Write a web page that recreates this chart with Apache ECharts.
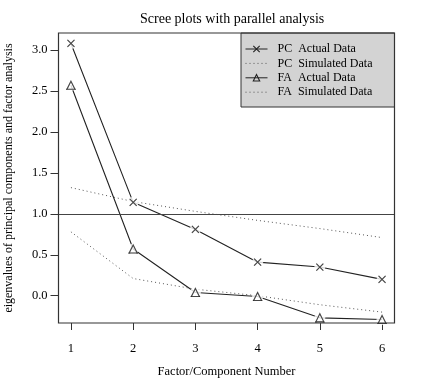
<!DOCTYPE html>
<html>
<head>
<meta charset="utf-8">
<script src="https://cdn.jsdelivr.net/npm/echarts@6/dist/echarts.min.js"></script>
<style>html,body{margin:0;padding:0;background:#fff}#c{width:439px;height:380px}</style>
</head>
<body>
<div id="c"></div>
<script>
var factors = [1, 2, 3, 4, 5, 6];
var pcActual = [3.08, 1.14, 0.81, 0.41, 0.35, 0.20];
var pcSimulated = [1.32, 1.15, 1.03, 0.92, 0.82, 0.71];
var faActual = [2.57, 0.57, 0.04, -0.01, -0.27, -0.29];
var faSimulated = [0.78, 0.21, 0.08, 0.00, -0.11, -0.20];
var yTicks = [0, 0.5, 1.0, 1.5, 2.0, 2.5, 3.0];
var seriesNames = ['PC  Actual Data', 'PC  Simulated Data', 'FA  Actual Data', 'FA  Simulated Data'];

function pairs(vals) { return factors.map(function (f, i) { return [f, vals[i]]; }); }

var FONT = 'Liberation Serif';
var INK = '#222';
var G = { left: 58.5, right: 44.5, top: 33, bottom: 57 };
var W = 439, H = 380;
var crossPath = 'path://M0,0L10,10M10,0L0,10';

function markers(vals, sym, size) {
  return [{
    type: 'scatter', data: pairs(vals), symbol: 'circle', symbolSize: 11, z: 3, silent: true,
    itemStyle: { color: '#fff', borderWidth: 0 }
  }, {
    type: 'scatter', data: pairs(vals), symbol: sym, symbolSize: size, z: 4, silent: true,
    itemStyle: { color: 'transparent', borderColor: INK, borderWidth: 1.1 }
  }];
}

var series = [
  { name: seriesNames[0], type: 'line', data: pairs(pcActual), symbol: crossPath, symbolSize: 7, z: 2,
    lineStyle: { color: INK, width: 1.1 }, itemStyle: { color: 'transparent', borderColor: INK, borderWidth: 1.1 },
    markLine: { silent: true, symbol: 'none', label: { show: false }, lineStyle: { color: '#444', width: 1, type: 'solid' },
      data: [{ yAxis: 1 }] } },
  { name: seriesNames[1], type: 'line', data: pairs(pcSimulated), symbol: 'none', z: 2,
    lineStyle: { color: '#555', width: 1, type: [1, 3] }, itemStyle: { color: 'transparent' } },
  { name: seriesNames[2], type: 'line', data: pairs(faActual), symbol: 'triangle', symbolSize: 8, z: 2,
    lineStyle: { color: INK, width: 1.1 }, itemStyle: { color: 'transparent', borderColor: INK, borderWidth: 1.1 } },
  { name: seriesNames[3], type: 'line', data: pairs(faSimulated), symbol: 'none', z: 2,
    lineStyle: { color: '#555', width: 1, type: [1, 3] }, itemStyle: { color: 'transparent' } }
].concat(markers(pcActual, crossPath, 7)).concat(markers(faActual, 'triangle', 8));

var hiddenSym = { color: 'transparent', borderColor: 'transparent', borderWidth: 0 };
var legendData = [
  { name: seriesNames[0] },
  { name: seriesNames[1], itemStyle: hiddenSym },
  { name: seriesNames[2] },
  { name: seriesNames[3], itemStyle: hiddenSym }
];

var chart = echarts.init(document.getElementById('c'), null, { renderer: 'canvas' });
chart.setOption({
  animation: false,
  backgroundColor: '#fff',
  title: { text: 'Scree plots with parallel analysis', left: 135, top: 7,
    textStyle: { fontFamily: FONT, fontSize: 14, fontWeight: 'normal', color: '#000' } },
  grid: { left: G.left, right: G.right, top: G.top, bottom: G.bottom, show: false,
    containLabel: false, outerBoundsMode: 'none' },
  xAxis: {
    type: 'value', min: 0.8, max: 6.2,
    name: 'Factor/Component Number', nameLocation: 'middle', nameGap: 42,
    nameTextStyle: { fontFamily: FONT, fontSize: 12.5, color: '#000' },
    axisLine: { show: false, onZero: false },
    axisTick: { show: true, length: 7, inside: false, customValues: factors, lineStyle: { color: '#333' } },
    axisLabel: { customValues: factors, margin: 19, fontFamily: FONT, fontSize: 12.5, color: '#000' },
    splitLine: { show: false }
  },
  yAxis: {
    type: 'value', min: -0.333, max: 3.208,
    name: 'eigenvalues of principal components and factor analysis', nameLocation: 'middle', nameGap: 44,
    nameTextStyle: { fontFamily: FONT, fontSize: 12, color: '#000' },
    axisLine: { show: false, onZero: false },
    axisTick: { show: true, length: 8, inside: false, customValues: yTicks, lineStyle: { color: '#333' } },
    axisLabel: { customValues: yTicks, margin: 11, fontFamily: FONT, fontSize: 12.5, color: '#000',
      formatter: function (v) { return v.toFixed(1); } },
    splitLine: { show: false }
  },
  legend: {
    data: legendData, orient: 'vertical', left: 245, top: 43, itemWidth: 22, itemHeight: 8, itemGap: 2.4,
    padding: 0, selectedMode: false,
    lineStyle: { width: 1 },
    itemStyle: { borderWidth: 1.1 },
    textStyle: { fontFamily: FONT, fontSize: 12, color: '#000', padding: [0, 0, 0, 5] }
  },
  graphic: [
    { type: 'rect', z: 1, silent: true,
      shape: { x: 241, y: G.top, width: W - G.right - 241, height: 74 },
      style: { fill: '#d3d3d3', stroke: '#333', lineWidth: 1 } },
    { type: 'rect', z: 100, silent: true,
      shape: { x: G.left, y: G.top, width: W - G.left - G.right, height: H - G.top - G.bottom },
      style: { fill: 'none', stroke: '#333', lineWidth: 1.2 } }
  ],
  series: series
});
</script>
</body>
</html>
